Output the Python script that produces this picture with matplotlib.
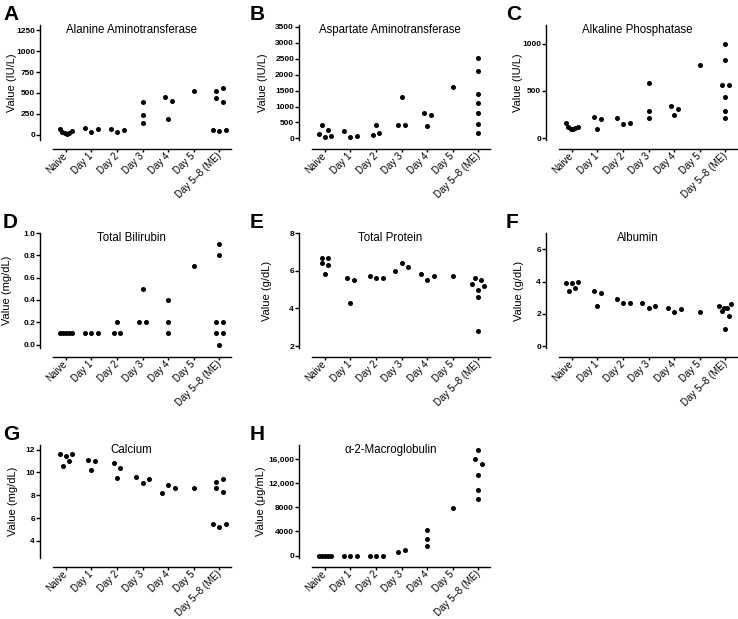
import numpy as np
import matplotlib
matplotlib.use("Agg")
import matplotlib.pyplot as plt

plt.rcParams['font.family'] = ['Liberation Sans', 'DejaVu Sans']

categories = ['Naive', 'Day 1', 'Day 2', 'Day 3', 'Day 4', 'Day 5', 'Day 5\u20138 (ME)']

# values per group (left-to-right order within a row of dots)
alt = [[70, 35, 20, 15, 25, 50], [85, 30, 75], [75, 30, 55], [390, 240, 140],
       [455, 405, 190], [520], [525, 435, 60, 50, 560, 395, 55]]
ast = [[140, 420, 55, 260, 90], [230, 45, 90], [110, 410, 175], [410, 1310, 430],
       [800, 720, 400], [1600], [2520, 2120, 1400, 1100, 800, 455, 160]]
alp = [[165, 115, 100, 100, 110, 115], [220, 95, 205], [210, 150, 160], [590, 290, 210],
       [345, 245, 310], [780], [1000, 825, 560, 560, 440, 290, 210]]
bili = [[0.1, 0.1, 0.1, 0.1, 0.1], [0.1, 0.1, 0.1], [0.2, 0.1, 0.1], [0.5, 0.2, 0.2],
        [0.4, 0.2, 0.1], [0.7], [0.9, 0.8, 0.2, 0.2, 0.1, 0.1, 0.0]]
protein = [[6.7, 6.7, 6.4, 6.3, 5.8], [5.6, 5.5, 4.3], [5.7, 5.6, 5.6], [6.0, 6.4, 6.2],
           [5.8, 5.5, 5.7], [5.7], [5.3, 5.6, 5.0, 4.6, 5.5, 5.2, 2.8]]
albumin = [[3.9, 3.4, 3.9, 3.6, 4.0], [3.4, 2.5, 3.3], [2.9, 2.7, 2.7], [2.7, 2.4, 2.5],
           [2.4, 2.1, 2.3], [2.1], [2.5, 2.2, 2.4, 1.1, 2.4, 1.9, 2.6]]
calcium = [[11.6, 10.6, 11.4, 11.0, 11.6], [11.1, 10.2, 11.0], [10.8, 9.5, 10.4], [9.6, 9.1, 9.4],
           [8.2, 8.9, 8.6], [8.6], [9.2, 8.6, 5.5, 5.2, 9.4, 8.3, 5.5]]
a2m = [[0, 0, 0, 0, 0], [0, 0, 0], [0, 0, 0], [600, 900],
       [4300, 2800, 1600], [7800], [16000, 17400, 15100, 13400, 10900, 9300]]

titles = ['Alanine Aminotransferase', 'Aspartate Aminotransferase', 'Alkaline Phosphatase',
          'Total Bilirubin', 'Total Protein', 'Albumin', 'Calcium', '\u03b1-2-Macroglobulin']
ylabels = ['Value (IU/L)', 'Value (IU/L)', 'Value (IU/L)', 'Value (mg/dL)',
           'Value (g/dL)', 'Value (g/dL)', 'Value (mg/dL)', 'Value (\u03bcg/mL)']
letters = ['A', 'B', 'C', 'D', 'E', 'F', 'G', 'H']
yticks = [[0, 250, 500, 750, 1000, 1250],
          [0, 500, 1000, 1500, 2000, 2500, 3000, 3500],
          [0, 500, 1000],
          [0.0, 0.2, 0.4, 0.6, 0.8, 1.0],
          [2, 4, 6, 8],
          [0, 2, 4, 6],
          [4, 6, 8, 10, 12],
          [0, 4000, 8000, 12000, 16000]]
yticklabels = [None, None, None, ['0.0', '0.2', '0.4', '0.6', '0.8', '1.0'], None, None, None,
               ['0', '4000', '8000', '12,000', '16,000']]
data = [alt, ast, alp, bili, protein, albumin, calcium, a2m]

ylims = [(-60, 1310), (-50, 3560), (-20, 1200), (-0.03, 1.0), (1.9, 8.0),
         (-0.1, 7.0), (2.5, 12.4), (-400, 18300)]

W, H = 738, 619
fig = plt.figure(figsize=(W / 100, H / 100), dpi=100)

col_left = [53, 312, 559]
letter_x = [3, 250, 506]
row_span = [(25, 140), (233, 348), (445, 558)]
ylabel_px = [12, 263, 518, 7, 267, 519, 13, 261]   # centre of y label, figure px
ax_w = 178


def spread(ax, xc, vals, thresh=5.6, step=6.5, width=12.0):
    # group dots that would overlap into rows and centre each row on the category
    tr = ax.transData
    x0 = tr.transform((xc, 0))[0]
    py = [tr.transform((xc, v))[1] for v in vals]
    order = sorted(range(len(vals)), key=lambda k: py[k])
    rows, cur = [], [order[0]]
    for k in order[1:]:
        if py[k] - py[cur[-1]] < thresh:
            cur.append(k)
        else:
            rows.append(cur)
            cur = [k]
    rows.append(cur)
    px = [x0] * len(vals)
    for row in rows:
        row = sorted(row)
        n = len(row)
        s = step if n <= 3 else min(step, width / (n - 1))
        for j, k in enumerate(row):
            px[k] = x0 + (j - (n - 1) / 2) * s
    inv = tr.inverted()
    return [inv.transform((px[k], py[k]))[0] for k in range(len(vals))]


for i in range(8):
    r, c = divmod(i, 3)
    top, bot = row_span[r]
    ax = fig.add_axes([col_left[c] / W, 1 - bot / H, ax_w / W, (bot - top) / H])
    ax.set_xlim(-0.5, 6.45)
    ax.set_ylim(*ylims[i])
    for sp in ['top', 'right']:
        ax.spines[sp].set_visible(False)
    ax.spines['left'].set_position(('outward', 9.4))
    ax.spines['bottom'].set_position(('outward', 6.5))
    for sp in ['left', 'bottom']:
        ax.spines[sp].set_linewidth(1.0)
    ax.set_yticks(yticks[i])
    if yticklabels[i] is not None:
        ax.set_yticklabels(yticklabels[i])
    ax.set_xticks(range(len(categories)))
    ax.set_xticklabels(categories, rotation=45, ha='right', va='center',
                       rotation_mode='anchor', fontsize=7)
    ax.tick_params(axis='y', labelsize=6, length=3, width=1.0, pad=0.5)
    ax.tick_params(axis='x', length=2.5, width=1.0, pad=1.5)
    for lab in ax.get_yticklabels():
        lab.set_fontweight('bold')
    ax.set_ylabel(ylabels[i], fontsize=8)
    ax.yaxis.set_label_coords((ylabel_px[i] + 5 - col_left[c]) / ax_w, 0.5)

    for g, vals in enumerate(data[i]):
        xs = spread(ax, g, vals)
        ax.scatter(xs, vals, s=13, color='black', zorder=3, linewidths=0, clip_on=False)

    ax.text(0.44, 0.955, titles[i], transform=ax.transAxes, ha='center', va='center', fontsize=8.3)
    fig.text(letter_x[c] / W, 1 - (top - 20) / H, letters[i],
             fontsize=15, fontweight='bold', va='top', ha='left')

fig.savefig('out.png', dpi=100)
